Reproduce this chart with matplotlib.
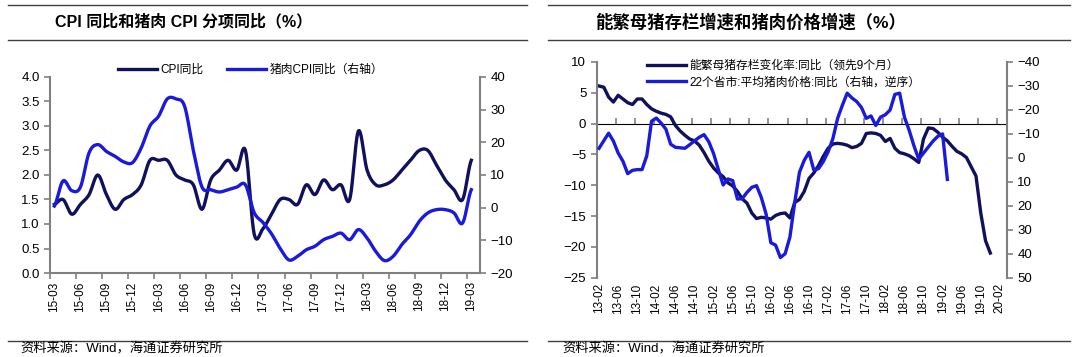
import numpy as np
import matplotlib
matplotlib.use('Agg')
import matplotlib.pyplot as plt
from matplotlib.lines import Line2D

plt.rcParams['font.family'] = ['Liberation Sans', 'Noto Sans CJK SC']

# 左图: CPI同比 与 猪肉CPI同比 (月度, 15-03 ~ 19-03)
cpi_ticklabels = ['15-03', '15-06', '15-09', '15-12', '16-03', '16-06', '16-09', '16-12',
                  '17-03', '17-06', '17-09', '17-12', '18-03', '18-06', '18-09', '18-12', '19-03']
cpi_yoy = [1.4, 1.5, 1.2, 1.4, 1.6, 2.0, 1.6, 1.3, 1.5, 1.6,
           1.8, 2.3, 2.3, 2.3, 2.0, 1.9, 1.8, 1.3, 1.9, 2.1, 2.3, 2.1,
           2.5, 0.8, 0.9, 1.2, 1.5, 1.5, 1.4, 1.8, 1.6, 1.9, 1.7, 1.8,
           1.5, 2.9, 2.1, 1.8, 1.8, 1.9, 2.1, 2.3, 2.5, 2.5, 2.2, 1.9,
           1.7, 1.5, 2.3]
pork_cpi_yoy = [0.5, 8.2, 5.2, 6.3, 16.8, 19.3, 17.2, 15.7, 14.0, 13.8,
                18.3, 25.0, 28.0, 33.3, 33.3, 31.0, 17.5, 6.3, 5.5, 4.8, 5.5, 6.3,
                7.0, -1.5, -4.5, -8.0, -12.5, -16.0, -14.9, -12.9, -11.8, -9.8, -8.8, -7.8,
                -9.8, -6.7, -9.3, -13.4, -16.2, -14.9, -11.3, -8.3, -4.2, -1.6, -0.6, -0.6,
                -1.6, -4.7, 5.5]

# 右图: 能繁母猪存栏同比(领先9个月) 与 22省市猪肉价格同比 (月度, 13-02起)
sow_ticklabels = ['13-02', '13-06', '13-10', '14-02', '14-06', '14-10', '15-02', '15-06',
                  '15-10', '16-02', '16-06', '16-10', '17-02', '17-06', '17-10', '18-02',
                  '18-06', '18-10', '19-02', '19-06', '19-10', '20-02']
sow_yoy_lead9 = [6.1, 5.9, 4.3, 3.5, 4.6, 4.0, 3.4, 3.1, 4.0, 4.0,
                 3.1, 2.4, 2.0, 1.7, 1.5, 1.1, -0.3, -1.2, -1.9, -2.5,
                 -2.8, -3.5, -4.7, -6.1, -7.2, -8.0, -8.6, -9.6, -10.1, -11.0,
                 -12.2, -12.9, -14.5, -15.4, -15.2, -15.3, -15.5, -14.9, -14.6, -14.5,
                 -15.3, -12.8, -12.3, -11.0, -8.9, -8.0, -6.8, -5.3, -4.0, -3.3,
                 -3.2, -3.3, -3.5, -3.9, -3.7, -3.2, -1.6, -1.5, -1.6, -1.9,
                 -2.9, -2.4, -4.0, -4.7, -4.9, -5.2, -5.7, -6.3, -2.5, -0.7,
                 -0.8, -1.4, -2.2, -2.8, -3.7, -4.5, -4.9, -5.5, -7.0, -8.5,
                 -14.5, -19.0, -21.0]
pork_price_yoy = [-4.0, -7.2, -10.3, -7.0, -2.0, 1.4, 6.6, 5.2, 4.9, 4.9,
                  -0.9, -15.3, -16.6, -14.5, -12.0, -5.7, -4.4, -4.2, -4.0, -5.5,
                  -7.1, -8.6, -9.7, -6.7, -1.8, 4.9, 11.3, 8.8, 9.5, 17.2,
                  17.0, 14.4, 12.3, 11.6, 16.5, 23.4, 35.4, 36.4, 41.6, 40.0,
                  33.0, 18.7, 6.0, 1.0, -2.3, 5.0, 4.5, 1.5, -2.5, -8.0,
                  -16.5, -22.0, -27.0, -25.0, -23.5, -21.0, -16.5, -17.5, -13.5, -17.0,
                  -18.0, -20.0, -26.5, -27.0, -17.0, -11.5, -5.0, 0.5, -2.0, -4.5,
                  -7.0, -9.0, -10.0, 9.0]

DARK = '#10105c'
BLUE = '#1a1adc'
GRAY = '#808080'
FS = 8.5


def smooth(y, n=10):
    # 类似 Excel 平滑线的 Catmull-Rom 曲线, 只用于画线
    y = np.asarray(y, dtype=float)
    p = np.concatenate([[y[0]], y, [y[-1]]])
    xs, ys = [], []
    t = np.linspace(0, 1, n, endpoint=False)
    for i in range(len(y) - 1):
        p0, p1, p2, p3 = p[i], p[i + 1], p[i + 2], p[i + 3]
        seg = 0.5 * (2 * p1 + (-p0 + p2) * t + (2 * p0 - 5 * p1 + 4 * p2 - p3) * t ** 2
                     + (-p0 + 3 * p1 - 3 * p2 + p3) * t ** 3)
        xs.append(i + t)
        ys.append(seg)
    xs.append([len(y) - 1])
    ys.append([y[-1]])
    return np.concatenate(xs), np.concatenate(ys)


fig = plt.figure(figsize=(10.8, 3.57), dpi=100)

# 标题框线
for x0, x1 in [(8, 527), (548, 1070)]:
    for y in [5, 40, 340.5]:
        fig.add_artist(Line2D([x0 / 1080, x1 / 1080], [1 - y / 357, 1 - y / 357],
                              transform=fig.transFigure, color='#404040', lw=1.0))

fig.text(55 / 1080, 1 - 22 / 357, 'CPI 同比和猪肉 CPI 分项同比（%）',
         fontsize=11.5, fontweight='bold', va='center')
fig.text(595 / 1080, 1 - 22 / 357, '能繁母猪存栏增速和猪肉价格增速（%）',
         fontsize=12.5, fontweight='bold', va='center')
fig.text(20 / 1080, 1 - 349 / 357, '资料来源：Wind，海通证券研究所', fontsize=9.5, va='center')
fig.text(562 / 1080, 1 - 349 / 357, '资料来源：Wind，海通证券研究所', fontsize=9.5, va='center')


def style_spines(ax, sides):
    for s in ['top', 'bottom', 'left', 'right']:
        ax.spines[s].set_visible(s in sides)
        ax.spines[s].set_color(GRAY)
        ax.spines[s].set_linewidth(1.5)


# ---------------- 左图 ----------------
ax1 = fig.add_axes([50 / 1080, 1 - 273 / 357, 430 / 1080, 196 / 357])
ax1r = ax1.twinx()
l1, = ax1.plot(*smooth(cpi_yoy), color=DARK, lw=2.4, label='CPI同比')
l2, = ax1r.plot(*smooth(pork_cpi_yoy), color=BLUE, lw=2.4, label='猪肉CPI同比（右轴）')
ax1.set_ylim(0, 4)
ax1.set_yticks(np.arange(0, 4.01, 0.5))
ax1.set_yticklabels([f'{v:.1f}' for v in np.arange(0, 4.01, 0.5)])
ax1r.set_ylim(-20, 40)
ax1r.set_yticks(range(-20, 41, 10))
ax1.set_xlim(-0.5, 49.0)
ax1.set_xticks(np.arange(len(cpi_ticklabels)) * 3)
ax1.set_xticklabels(cpi_ticklabels, rotation=90)
ax1.set_xticks(np.arange(len(cpi_ticklabels)) * 3 - 0.5, minor=True)
ax1.tick_params(axis='x', which='major', length=0, labelsize=FS, pad=6)
ax1.tick_params(axis='x', which='minor', length=4, width=1.2, color=GRAY)
ax1.tick_params(axis='y', length=4, width=1.2, color=GRAY, labelsize=FS + 1)
ax1r.tick_params(axis='y', length=4, width=1.2, color=GRAY, labelsize=FS + 1)
style_spines(ax1, ['left', 'bottom'])
style_spines(ax1r, ['right'])
ax1.legend(handles=[l1, l2], loc='center left', bbox_to_anchor=(0.158, 1.036), ncol=2,
           frameon=False, fontsize=FS, handlelength=3.3, handletextpad=0.3,
           columnspacing=2.0, borderpad=0, borderaxespad=0)

# ---------------- 右图 ----------------
ax2 = fig.add_axes([596.7 / 1080, 1 - 277.7 / 357, 410.3 / 1080, 215.7 / 357])
ax2r = ax2.twinx()
x2a = np.arange(len(sow_yoy_lead9))
x2b = np.arange(len(pork_price_yoy))
l3, = ax2.plot(x2a, sow_yoy_lead9, color=DARK, lw=2.4, label='能繁母猪存栏变化率:同比（领先9个月）')
l4, = ax2r.plot(x2b, pork_price_yoy, color=BLUE, lw=2.4, label='22个省市:平均猪肉价格:同比（右轴，逆序）')
ax2.set_ylim(-25, 10)
ax2.set_yticks(range(-25, 11, 5))
ax2r.set_ylim(50, -40)
ax2r.set_yticks(range(-40, 51, 10))
ax2.set_xlim(-0.5, 85.5)
ax2.set_xticks(np.arange(len(sow_ticklabels)) * 4)
ax2.set_xticklabels(sow_ticklabels, rotation=90)
ax2.tick_params(axis='x', length=0, labelsize=FS, pad=4)
ax2.tick_params(axis='y', length=4, width=1.2, color=GRAY, labelsize=FS + 1)
ax2r.tick_params(axis='y', length=4, width=1.2, color=GRAY, labelsize=FS + 1)
style_spines(ax2, ['left'])
style_spines(ax2r, ['right'])
# 零轴(带刻度)
zero_ax = ax2.secondary_xaxis(25 / 35)
zero_ax.set_xticks(np.arange(len(sow_ticklabels)) * 4 - 0.5)
zero_ax.tick_params(axis='x', length=4, width=1.2, color=GRAY, labelbottom=False, labeltop=False)
zero_ax.spines['bottom'].set_color(GRAY)
zero_ax.spines['bottom'].set_linewidth(1.5)
ax2.legend(handles=[l3, l4], loc='center left', bbox_to_anchor=(0.1226, 0.944),
           frameon=False, fontsize=FS, handlelength=3.3, handletextpad=0.3,
           labelspacing=0.35, borderpad=0, borderaxespad=0)

fig.savefig('out.png', dpi=100)
